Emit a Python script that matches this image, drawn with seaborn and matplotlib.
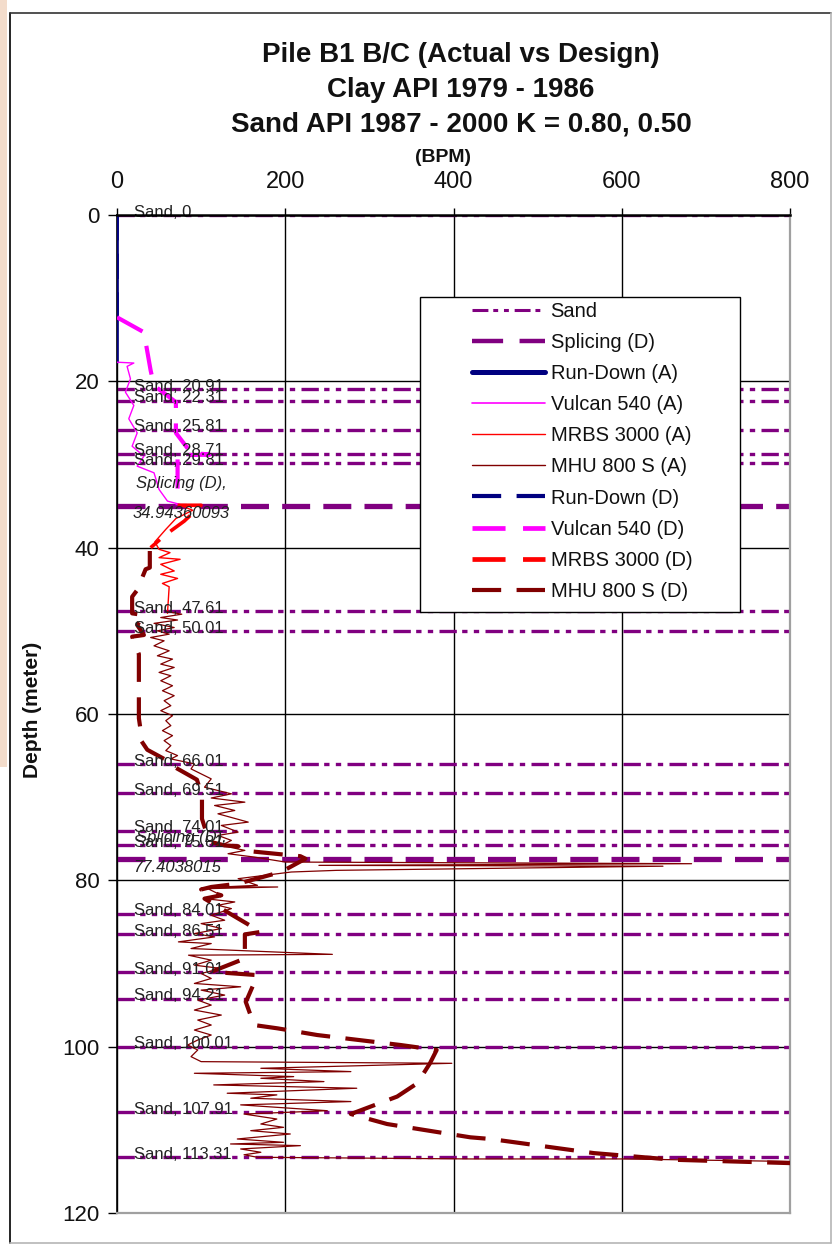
import matplotlib
matplotlib.use("Agg")
import matplotlib.pyplot as plt
import seaborn as sns
from matplotlib.patches import Rectangle
from matplotlib.lines import Line2D

# ---------------- data ----------------
sand_depths = [0, 20.91, 22.31, 25.81, 28.71, 29.81, 47.61, 50.01, 66.01, 69.51,
               74.01, 75.81, 84.01, 86.51, 91.01, 94.21, 100.01, 107.91, 113.31]
splice_depths = [34.94360093, 77.4038015]
splice_texts = ["34.94360093", "77.4038015"]

rundown_a_bpm = [0, 0]
rundown_a_depth = [0, 17.7]
rundown_d_bpm = [0, 0]
rundown_d_depth = [0, 12.3]

vulcan_a_bpm = [0, 20, 12, 16, 10, 20, 14, 24, 18, 32, 24, 44, 50, 60, 75]
vulcan_a_depth = [17.7, 17.8, 18.2, 19.7, 21.3, 22.9, 24.5, 26.2, 27.8, 29.0,
                  30.2, 31.0, 33.0, 34.4, 34.8]

vulcan_d_bpm = [0, 32, 40, 44, 70, 70, 88, 110, 72, 72]
vulcan_d_depth = [12.3, 14.1, 18.7, 20.5, 22.5, 26.2, 28.6, 28.8, 28.9, 34.9]

mrbs_a_bpm = [75, 90, 70, 58, 45, 50, 63, 50, 75, 52, 68, 52, 72, 54, 62, 60]
mrbs_a_depth = [34.9, 35.5, 36.5, 37.8, 39.3, 40.2, 40.6, 41.2, 41.4, 42.0,
                42.8, 43.2, 43.7, 44.3, 44.7, 47.9]

mrbs_d_bpm = [72, 100, 80, 57, 40]
mrbs_d_depth = [34.9, 34.9, 36.8, 38.5, 40.0]

mhu_a_bpm = [60, 77, 52, 72, 44, 68, 48, 62, 40, 56, 44, 62, 48, 66, 52, 68, 50, 64,
             52, 66, 54, 68, 56, 64, 52, 66, 58, 64, 54, 66, 56, 64, 58, 72, 64, 92, 88,
             112, 104, 136, 112, 152, 116, 140, 120, 156, 124, 144, 120, 136, 124, 152,
             132, 163, 200, 683, 240, 649, 261, 207, 144, 167, 124, 191,
             108, 124, 104, 140, 120, 136, 112, 128, 100, 124, 92, 116, 73, 112, 88,
             256, 85, 112, 92, 124, 100, 112, 92, 147, 100, 128, 96, 112, 92, 124, 96,
             112, 92, 112,
             96, 84, 96, 88, 100, 398, 171, 278, 92, 210, 171, 246, 115, 285, 131, 190,
             159, 278, 147, 250, 151, 190, 171, 198, 159, 206, 143, 198, 135, 218, 147,
             171, 151, 167, 420, 600, 800]
mhu_a_depth = [47.7, 48.0, 48.4, 48.7, 49.1, 49.6, 50.0, 50.4, 50.8, 51.2, 51.8, 52.4,
               53.0, 53.4, 54.0, 54.4, 55.0, 55.4, 56.0, 56.6, 57.2, 57.8, 58.4, 59.0,
               59.6, 60.2, 60.8, 61.4, 62.0, 62.6, 63.2, 63.8, 64.4, 65.0, 65.4, 66.0,
               66.6,
               67.8, 68.8, 69.6, 70.1, 70.6, 71.0, 71.6, 72.0, 73.0, 73.4, 74.2, 74.6,
               75.2, 75.8, 76.4, 76.8, 77.2, 77.8, 78.0, 78.2, 78.3, 78.8, 79.0, 79.8,
               80.6, 80.8, 80.8,
               81.0, 81.8, 82.2, 82.6, 83.0, 83.4, 84.2, 84.8, 85.2, 85.8, 86.4, 86.8,
               87.4, 87.6, 88.2, 88.9, 89.0, 89.6, 90.2, 90.6, 91.2, 91.8, 92.4, 92.8,
               93.2, 93.8, 94.4, 95.0, 95.6, 96.2, 96.8, 97.4, 98.0, 98.6,
               99.2, 99.8, 100.4, 101.2, 101.8, 102.0, 102.6, 103.0, 103.2, 103.6, 103.8,
               104.2, 104.6, 105.0, 105.6, 105.8, 106.2, 106.6, 107.0, 107.7, 108.1,
               108.7, 109.3, 109.7, 110.1, 110.5, 111.1, 111.5, 111.7, 111.9, 112.3,
               112.7, 113.0, 113.3, 113.5, 113.5, 113.8]

mhu_d_bpm = [39, 39, 34, 24, 18, 18, 32, 24, 32, 18, 26, 26, 28, 28, 36, 56, 60, 95,
             101, 101, 107, 112, 128, 144, 148, 218, 224, 195, 144, 112, 100, 124, 104,
             171, 152, 152, 112, 167, 155, 153, 163, 191, 238, 337, 380, 372, 357, 333,
             278, 321, 420, 444, 567, 662, 800]
mhu_d_depth = [40.4, 42.4, 42.6, 45.1, 45.9, 47.9, 48.1, 49.3, 50.5, 50.7, 52.8, 60.5,
               61.9, 63.1, 64.3, 65.4, 65.9, 67.9, 69.8, 72.6, 74.5, 75.4, 75.8, 75.9,
               76.4, 77.1, 77.4, 79.0, 80.4, 80.8, 81.1, 81.8, 82.2, 86.2, 86.5, 89.4,
               91.0, 91.4, 94.2, 94.6, 97.4, 97.8, 98.6, 99.8, 100.4, 102.0, 104.4,
               106.0, 108.1, 109.3, 110.9, 111.1, 112.8, 113.6, 114.0]

x_ticks = [0, 200, 400, 600, 800]
y_ticks = [0, 20, 40, 60, 80, 100, 120]
title_lines = ["Pile B1 B/C (Actual vs Design)", "Clay API 1979 - 1986",
               "Sand API 1987 - 2000 K = 0.80, 0.50"]
legend_labels = ["Sand", "Splicing (D)", "Run-Down (A)", "Vulcan 540 (A)",
                 "MRBS 3000 (A)", "MHU 800 S (A)", "Run-Down (D)", "Vulcan 540 (D)",
                 "MRBS 3000 (D)", "MHU 800 S (D)"]

# ---------------- styling ----------------
PURPLE = "#800080"
NAVY = "#000080"
MAGENTA = "#ff00ff"
RED = "#ff0000"
DARKRED = "#800000"
SAND_LS = (0, (5.2, 1.6, 1.6, 1.9, 1.6, 1.9))
SPLICE_LS = (0, (5.3, 2.5))
DESIGN_LS = (0, (7, 3.7))

sns.set_theme(style="white")
plt.rcParams['font.family'] = ['Liberation Sans', 'DejaVu Sans']

W, H = 833, 1247
fig = plt.figure(figsize=(W / 100, H / 100), dpi=100)
fig.patch.set_facecolor("white")
ax = fig.add_axes([117 / W, 1 - 1213 / H, (790 - 117) / W, (1213 - 215) / H])


def draw(x, y, **kw):
    sns.lineplot(x=x, y=y, sort=False, estimator=None, ax=ax, legend=False, **kw)


for d in sand_depths:
    draw([0, 800], [d, d], color=PURPLE, linewidth=2.4, linestyle=SAND_LS, zorder=2)
for d in splice_depths:
    draw([0, 800], [d, d], color=PURPLE, linewidth=3.8, linestyle=SPLICE_LS, zorder=2)

draw(rundown_a_bpm, rundown_a_depth, color=NAVY, linewidth=2.6, zorder=3)
draw(vulcan_a_bpm, vulcan_a_depth, color=MAGENTA, linewidth=1.0, zorder=3)
draw(mrbs_a_bpm, mrbs_a_depth, color=RED, linewidth=1.0, zorder=3)
draw(mhu_a_bpm, mhu_a_depth, color=DARKRED, linewidth=0.9, zorder=3)
draw(rundown_d_bpm, rundown_d_depth, color=NAVY, linewidth=2.6, linestyle=DESIGN_LS, zorder=3)
draw(vulcan_d_bpm, vulcan_d_depth, color=MAGENTA, linewidth=3.0, linestyle=DESIGN_LS, zorder=3)
draw(mrbs_d_bpm, mrbs_d_depth, color=RED, linewidth=2.6, linestyle=DESIGN_LS, zorder=3)
draw(mhu_d_bpm, mhu_d_depth, color=DARKRED, linewidth=3.0, linestyle=DESIGN_LS, zorder=3)

# data labels
for d in sand_depths:
    ax.text(20, d + 0.2, f"Sand, {d:g}", fontsize=12, color="#222222",
            ha="left", va="baseline", zorder=4, clip_on=False)
for d, t in zip(splice_depths, splice_texts):
    ax.text(22, d - 2.6, "Splicing (D),", fontsize=12, color="#222222",
            style="italic", ha="left", va="center", zorder=4)
    ax.text(19, d + 1.0, t, fontsize=12, color="#222222",
            style="italic", ha="left", va="center", zorder=4)

# axes
ax.set_xlim(0, 800)
ax.set_ylim(120, 0)
ax.set_xticks(x_ticks)
ax.set_yticks(y_ticks)
ax.xaxis.tick_top()
ax.tick_params(axis="x", top=True, bottom=False, labeltop=True, labelbottom=False,
               direction="out", length=5, width=1, color="black", labelsize=17,
               pad=11, labelcolor="#111111")
ax.tick_params(axis="y", left=True, direction="out", length=6.5, width=1,
               color="black", labelsize=16, pad=6, labelcolor="#111111")
ax.set_xlabel("")
ax.set_ylabel("")
ax.grid(True, color="black", linewidth=1.0)
ax.set_axisbelow(True)
ax.spines["top"].set_color("black")
ax.spines["top"].set_linewidth(1.8)
ax.spines["top"].set_zorder(5)
ax.spines["left"].set_color("black")
ax.spines["left"].set_linewidth(1.2)
for s in ("right", "bottom"):
    ax.spines[s].set_color("#a0a0a0")
    ax.spines[s].set_linewidth(1.6)

# legend box + legend
ax.add_patch(Rectangle((420 / W, 1 - 612 / H), 320 / W, 315 / H,
                       transform=fig.transFigure, facecolor="white",
                       edgecolor="black", linewidth=1.0, zorder=8, clip_on=False))
handles = [
    Line2D([], [], color=PURPLE, lw=2.2, ls=SAND_LS),
    Line2D([], [], color=PURPLE, lw=3.2, ls=DESIGN_LS),
    Line2D([], [], color=NAVY, lw=3.6, solid_capstyle="round"),
    Line2D([], [], color=MAGENTA, lw=1.2),
    Line2D([], [], color=RED, lw=1.0),
    Line2D([], [], color=DARKRED, lw=1.0),
    Line2D([], [], color=NAVY, lw=3.0, ls=DESIGN_LS),
    Line2D([], [], color=MAGENTA, lw=3.4, ls=DESIGN_LS),
    Line2D([], [], color=RED, lw=3.4, ls=DESIGN_LS),
    Line2D([], [], color=DARKRED, lw=3.0, ls=DESIGN_LS),
]
leg = ax.legend(handles, legend_labels, loc="upper left",
                bbox_to_anchor=(472 / W, 1 - 302 / H), bbox_transform=fig.transFigure,
                frameon=False, fontsize=14.5, handlelength=3.6, handletextpad=0.3,
                labelspacing=0.6, borderpad=0, borderaxespad=0)
leg.set_zorder(9)
for t in leg.get_texts():
    t.set_color("#111111")

# titles
ys = [62, 97, 132]
for line, yb in zip(title_lines, ys):
    fig.text(461 / W, 1 - yb / H, line, fontsize=20, fontweight="bold",
             ha="center", va="baseline", color="#111111")
fig.text(443 / W, 1 - 158 / H, "(BPM)", fontsize=14, fontweight="bold",
         ha="center", va="center", color="#111111")
fig.text(33 / W, 1 - 710 / H, "Depth (meter)", fontsize=15, fontweight="bold",
         rotation=90, ha="center", va="center", color="#111111")

# outer frame
fig.add_artist(Rectangle((0, 1 - 767 / H), 7 / W, 767 / H, transform=fig.transFigure,
                         facecolor="#f3dccb", edgecolor="none"))
fig.add_artist(Line2D([10 / W, 10 / W], [1 - 13 / H, 1 - 1243 / H], color="black", lw=1.2))
fig.add_artist(Line2D([10 / W, 831 / W], [1 - 13 / H, 1 - 13 / H], color="#333333", lw=1.2))
fig.add_artist(Line2D([831 / W, 831 / W], [1 - 13 / H, 1 - 1243 / H], color="#b5b5b5", lw=1.2))
fig.add_artist(Line2D([10 / W, 831 / W], [1 - 1243 / H, 1 - 1243 / H], color="#b5b5b5", lw=1.2))

fig.savefig("out.png", dpi=100, facecolor="white")
